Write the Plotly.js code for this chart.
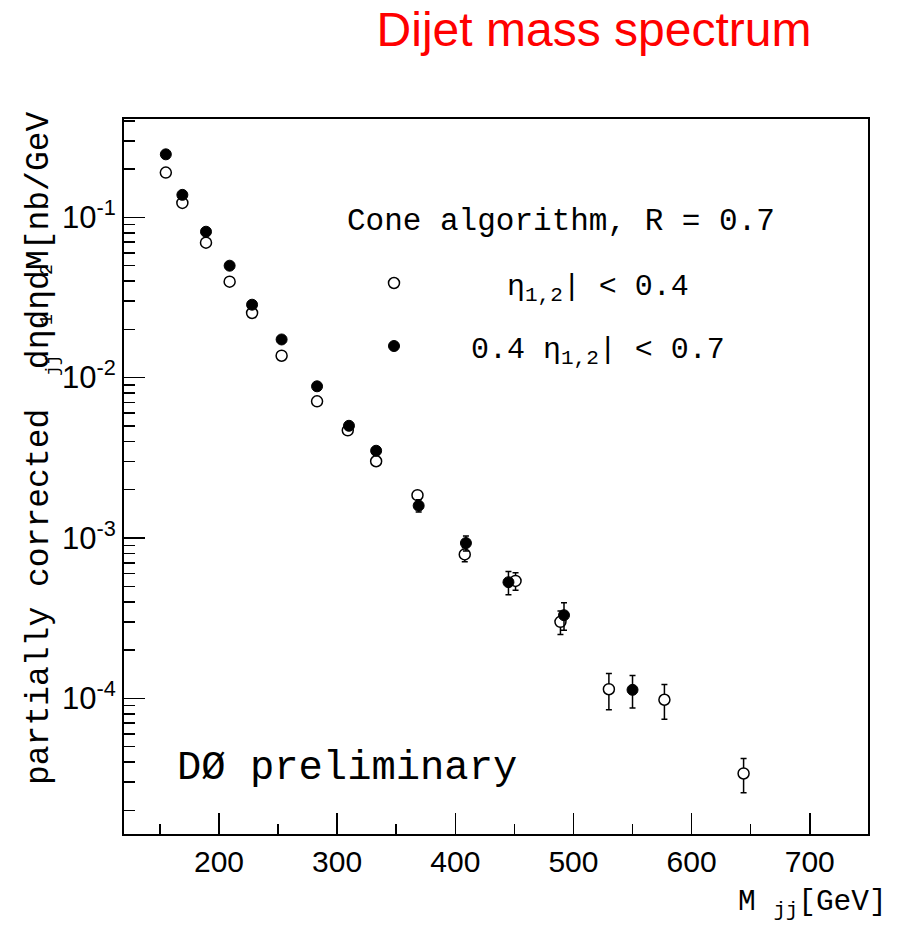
<!DOCTYPE html>
<html><head><meta charset="utf-8">
<script src="https://cdn.plot.ly/plotly-3.0.1.min.js"></script>
<style>html,body{margin:0;padding:0;background:#fff;}</style>
</head><body><div id="chart" style="width:898px;height:927px;"></div>
<script>
// open circles: |eta| < 0.4
const massOpen   = [155, 169, 189, 209, 228, 253, 283, 309, 333, 368, 408, 451, 489, 530, 577, 644];
const sigmaOpen  = [0.190, 0.123, 0.0695, 0.0397, 0.0253, 0.0137, 0.00712, 0.00469, 0.00301, 0.00185, 7.9e-4, 5.4e-4, 3.0e-4, 1.14e-4, 9.8e-5, 3.4e-5];
const errOpen    = [null, null, null, null, null, null, null, null, null, null, 8e-5, 6.7e-5, 5e-5, 2.9e-5, 2.4e-5, 8.2e-6];
// filled circles: 0.4 < |eta| < 0.7
const massFilled  = [155, 169, 189, 209, 228, 253, 283, 310, 333, 369, 409, 445, 492, 550];
const sigmaFilled = [0.247, 0.138, 0.0813, 0.0499, 0.0285, 0.0173, 0.00883, 0.00501, 0.00350, 0.00159, 9.3e-4, 5.3e-4, 3.3e-4, 1.13e-4];
const errFilled   = [null, null, null, null, null, null, null, null, null, 1.4e-4, 1.0e-4, 8.7e-5, 6.4e-5, 2.6e-5];

const xTickVals = [200, 300, 400, 500, 600, 700];
const xTickText = ['200', '300', '400', '500', '600', '700'];
const yTickVals = [1e-4, 1e-3, 1e-2, 1e-1];
const yTickText = ['10<sup>-4</sup>', '10<sup>-3</sup>', '10<sup>-2</sup>', '10<sup>-1</sup>'];

const nameOpen = '\u00a0\u00a0\u03b7<sub>1,2</sub>| < 0.4';
const nameFilled = '0.4 \u03b7<sub>1,2</sub>| < 0.7';

const mono = 'Liberation Mono, Courier New, monospace';
const sans = 'Liberation Sans, Arial, sans-serif';

const traces = [
  {
    type: 'scatter', mode: 'markers', name: nameOpen, legendgroup: 'a',
    x: massOpen, y: sigmaOpen,
    error_y: {type: 'data', array: errOpen, visible: true, color: '#000', thickness: 1.5, width: 3},
    marker: {symbol: 'circle', size: 11, color: '#fff', line: {color: '#000', width: 1.5}}
  },
  {
    type: 'scatter', mode: 'markers', name: nameFilled, legendgroup: 'b',
    x: massFilled, y: sigmaFilled,
    error_y: {type: 'data', array: errFilled, visible: true, color: '#000', thickness: 1.5, width: 3},
    marker: {symbol: 'circle', size: 11, color: '#000', line: {color: '#000', width: 1}}
  }
];

const L = 124, R = 868, T = 119, B = 834, W = 898, H = 927;
const px = v => (v - L) / (R - L);
const py = v => (B - v) / (B - T);

const layout = {
  width: W, height: H,
  margin: {l: L, r: W - R, t: T, b: H - B, pad: 0},
  paper_bgcolor: '#fff', plot_bgcolor: '#fff',
  font: {family: sans, color: '#000'},
  title: {text: 'Dijet mass spectrum', font: {family: sans, size: 48, color: '#ff0000'},
          x: 594 / W, xanchor: 'center', xref: 'container', y: 1 - 29 / H, yref: 'container', yanchor: 'middle'},
  xaxis: {
    range: [119.6, 749.3], showgrid: false, zeroline: false,
    showline: true, linecolor: '#000', linewidth: 2, mirror: true,
    ticks: 'inside', ticklen: 21, tickwidth: 1.5, tickcolor: '#000',
    tickvals: xTickVals, ticktext: xTickText,
    tickfont: {family: sans, size: 30, color: '#000'},
    minor: {dtick: 50, ticks: 'inside', ticklen: 10, tickwidth: 1.5, tickcolor: '#000', showgrid: false}
  },
  yaxis: {
    type: 'log', range: [-4.846, -0.387], showgrid: false, zeroline: false,
    showline: true, linecolor: '#000', linewidth: 2, mirror: true,
    ticks: 'inside', ticklen: 21, tickwidth: 1.5, tickcolor: '#000',
    tickvals: yTickVals, ticktext: yTickText,
    tickfont: {family: sans, size: 31, color: '#000'},
    minor: {dtick: 'D1', ticks: 'inside', ticklen: 11, tickwidth: 1.5, tickcolor: '#000', showgrid: false}
  },
  showlegend: true,
  legend: {
    x: px(317), xanchor: 'left', y: py(257), yanchor: 'top',
    font: {family: mono, size: 30, color: '#000'},
    bgcolor: 'rgba(0,0,0,0)', borderwidth: 0,
    itemwidth: 144, tracegroupgap: 21, traceorder: 'grouped'
  },
  annotations: [
    {text: 'Cone algorithm, R = 0.7', xref: 'paper', yref: 'paper', x: px(561), y: py(221),
     xanchor: 'center', yanchor: 'middle', showarrow: false, font: {family: mono, size: 31, color: '#000'}},
    {text: 'D\u00d8 preliminary', xref: 'paper', yref: 'paper', x: px(347), y: py(768),
     xanchor: 'center', yanchor: 'middle', showarrow: false, font: {family: mono, size: 40.5, color: '#000'}},
    {text: 'partially corrected  d\u03b7d\u03b7dM[nb/GeV', xref: 'paper', yref: 'paper', x: px(39), y: py(448),
     xanchor: 'center', yanchor: 'middle', textangle: -90, showarrow: false, font: {family: mono, size: 33, color: '#000'}},
    {text: 'jj', xref: 'paper', yref: 'paper', x: px(53), y: py(365), xanchor: 'center', yanchor: 'middle',
     textangle: -90, showarrow: false, font: {family: mono, size: 18, color: '#000'}},
    {text: '1', xref: 'paper', yref: 'paper', x: px(47), y: py(320), xanchor: 'center', yanchor: 'middle',
     textangle: -90, showarrow: false, font: {family: mono, size: 18, color: '#000'}},
    {text: '2', xref: 'paper', yref: 'paper', x: px(47), y: py(270), xanchor: 'center', yanchor: 'middle',
     textangle: -90, showarrow: false, font: {family: mono, size: 18, color: '#000'}},
    {text: 'M <sub>jj</sub>[GeV]', xref: 'paper', yref: 'paper', x: px(889), y: py(903),
     xanchor: 'right', yanchor: 'middle', showarrow: false, font: {family: mono, size: 29.5, color: '#000'}}
  ]
};

Plotly.newPlot('chart', traces, layout, {displayModeBar: false, staticPlot: true});
</script>
</body></html>
